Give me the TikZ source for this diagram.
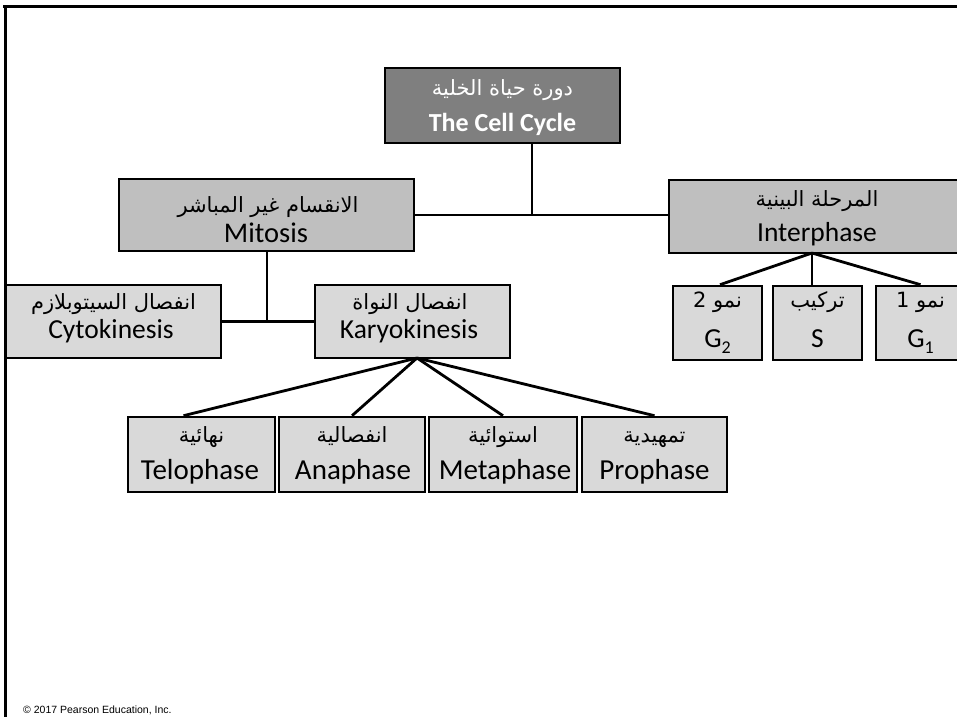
\documentclass[tikz,border=0pt]{standalone}
\usepackage{fontspec}
\setmainfont{Carlito}
\newfontfamily\arabicfont[Script=Arabic]{DejaVu Sans}
\newfontfamily\arialfont{Liberation Sans}
\TeXXeTstate=1
\newcommand\lowidx[1]{\raisebox{-0.22em}{\fontsize{18}{18}\selectfont #1}}
\begin{document}
\begin{tikzpicture}[x=1pt,y=-1pt,
  box/.style={draw=black, line width=2.6pt, rectangle, inner sep=0pt, fill=boxlight},
  boxmid/.style={box, fill=boxmid},
  boxdark/.style={box, fill=boxdark},
  link/.style={draw=black, line width=2.8pt},
  ar/.style={anchor=base, inner sep=0pt, font=\arabicfont\fontsize{21}{24}\selectfont},
  en/.style={anchor=base, inner sep=0pt, font=\fontsize{27.5}{30}\selectfont},
  enbig/.style={en, font=\fontsize{29}{32}\selectfont},
]
\definecolor{boxlight}{HTML}{D9D9D9}
\definecolor{boxmid}{HTML}{BFBFBF}
\definecolor{boxdark}{HTML}{7F7F7F}
\useasboundingbox (0,0) rectangle (957,717);
\fill[white] (0,0) rectangle (957,717);
% frame
\draw[line width=3pt] (3,7) -- (957,7);
\draw[line width=3pt] (5.5,5.5) -- (5.5,717);

% boxes
\node[boxdark, minimum width=235, minimum height=75] (cc) at (502.5,105.5) {};
\node[boxmid, minimum width=295, minimum height=72] (mit) at (266.5,215) {};
\node[boxmid, minimum width=296, minimum height=73] (int) at (817,216.5) {};
\node[box, minimum width=89, minimum height=74] (g2) at (717.5,323) {};
\node[box, minimum width=89, minimum height=74] (s) at (817.5,323) {};
\node[box, minimum width=89, minimum height=74] (g1) at (920.5,323) {};
\node[box, minimum width=215, minimum height=73] (cyto) at (113.5,321.5) {};
\node[box, minimum width=195, minimum height=73] (kary) at (412.5,321.5) {};
\node[box, minimum width=147, minimum height=75] (tel) at (201.5,454.5) {};
\node[box, minimum width=146, minimum height=75] (ana) at (352,454.5) {};
\node[box, minimum width=148, minimum height=75] (met) at (503,454.5) {};
\node[box, minimum width=145, minimum height=75] (pro) at (654.5,454.5) {};

% connectors
\coordinate (j1) at (532,215);
\draw[link] (cc.south -| j1) -- (j1);
\draw[link] (mit.east) -- (mit.east -| int.west);
\coordinate (j2) at (267,321.5);
\draw[link] (mit.south -| j2) -- (j2);
\draw[link] (cyto.east) -- (kary.west);
\coordinate (ij) at (812,253);
\draw[link] (ij) -- ([xshift=2.5]g2.north);
\draw[link] (ij) -- (ij |- s.north);
\draw[link] (ij) -- (g1.north);
\coordinate (kj) at (417,358);
\draw[link] (kj) -- ([xshift=-18]tel.north);
\draw[link] (kj) -- (ana.north);
\draw[link] (kj) -- (met.north);
\draw[link] (kj) -- (pro.north);

% texts
\node[ar, text=white] (ccA) at (502.5,95) {\beginR دورة حياة الخلية\endR};
\node[en, text=white, font=\bfseries\fontsize{26}{30}\selectfont] (ccE) at (502.5,131) {The Cell Cycle};
\node[ar] (mitA) at (268,212) {\beginR الانقسام غير المباشر\endR};
\node[en, font=\fontsize{28.5}{30}\selectfont] (mitE) at (266,242) {Mitosis};
\node[ar] (intA) at (817,206) {\beginR المرحلة البينية\endR};
\node[en] (intE) at (817,241) {Interphase};
\node[ar] (g2A) at (717.5,307) {\beginR نمو 2\endR};
\node[en] (g2E) at (717.5,347) {G\lowidx{2}};
\node[ar] (sA) at (817.5,307) {\beginR تركيب\endR};
\node[en] (sE) at (817.5,347) {S};
\node[ar] (g1A) at (920.5,307) {\beginR نمو 1\endR};
\node[en] (g1E) at (920.5,347) {G\lowidx{1}};
\node[ar] (cytoA) at (113.5,309) {\beginR انفصال السيتوبلازم\endR};
\node[en] (cytoE) at (111,338) {Cytokinesis};
\node[ar] (karyA) at (410,309) {\beginR انفصال النواة\endR};
\node[en] (karyE) at (409,338) {Karyokinesis};
\node[ar] (telA) at (201.5,442) {\beginR نهائية\endR};
\node[enbig] (telE) at (200,479) {Telophase};
\node[ar] (anaA) at (352,442) {\beginR انفصالية\endR};
\node[enbig] (anaE) at (353,479) {Anaphase};
\node[ar] (metA) at (503,442) {\beginR استوائية\endR};
\node[enbig] (metE) at (505,479) {Metaphase};
\node[ar] (proA) at (654.5,442) {\beginR تمهيدية\endR};
\node[enbig] (proE) at (654.5,479) {Prophase};

\node[anchor=base west, inner sep=0pt, font=\arialfont\fontsize{10.5}{12}\selectfont] (copy) at (23,713) {© 2017 Pearson Education, Inc.};
\end{tikzpicture}
\end{document}
